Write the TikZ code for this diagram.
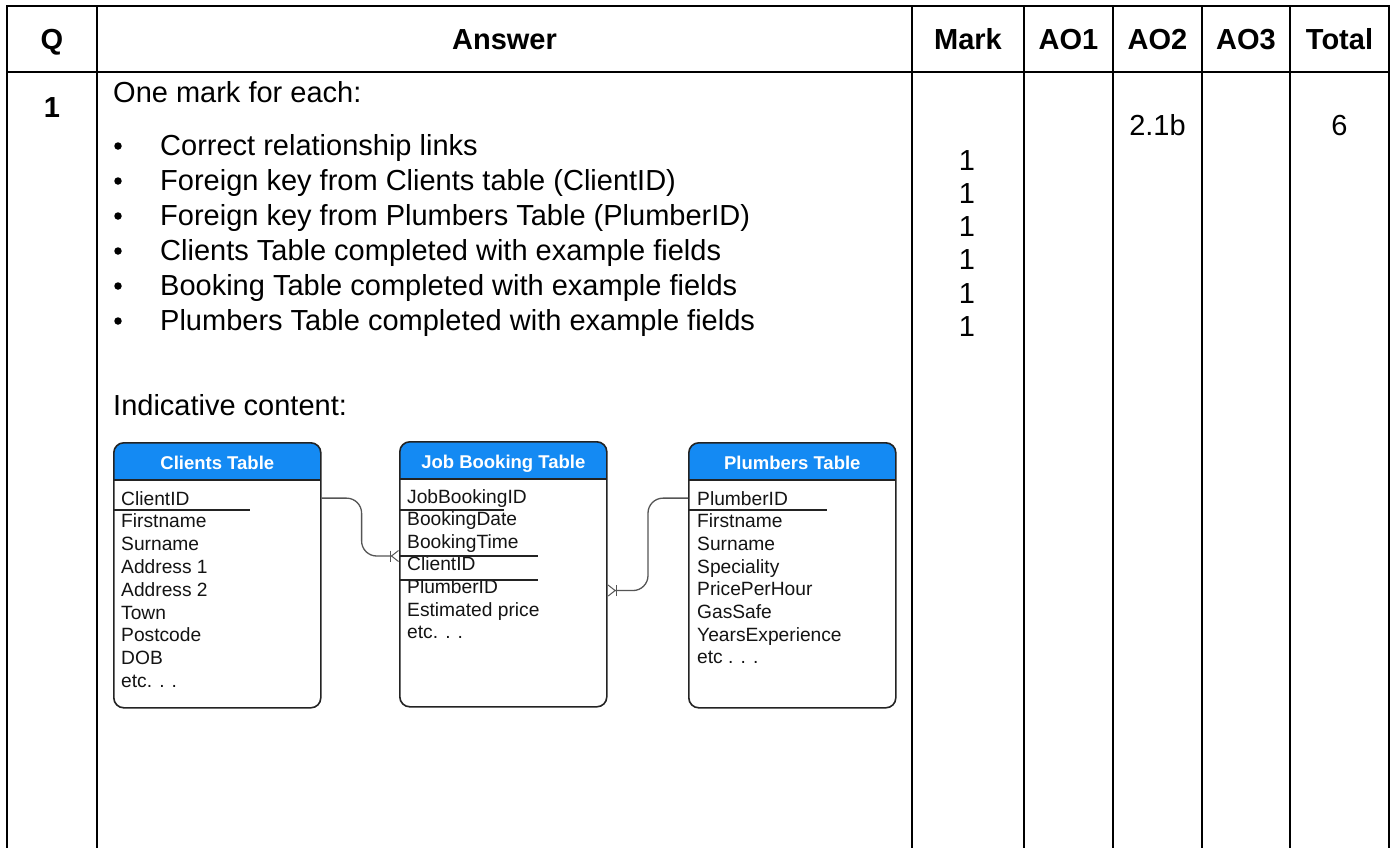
\documentclass[tikz,border=0pt]{standalone}
\usepackage{fontspec}
\setmainfont{Liberation Sans}
\usetikzlibrary{positioning, calc, arrows.meta}
\definecolor{tablehead}{RGB}{20, 138, 243}
\definecolor{boxline}{RGB}{35, 35, 35}
\definecolor{linkgrey}{RGB}{85, 85, 85}
\newcommand{\bodyfont}{\fontsize{29}{35}\selectfont}
\newcommand{\erfont}{\fontsize{19.2}{23}\selectfont}
\newcommand{\ertitlefont}{\fontsize{18.5}{22}\selectfont}

\tikzset{
  grid/.style={line width=2.2pt, black, line cap=rect},
  colhead/.style={font=\bodyfont\bfseries, inner sep=0pt, anchor=base},
  bodytext/.style={font=\bodyfont, anchor=base west, inner sep=0pt},
  markcell/.style={font=\bodyfont, anchor=base, inner sep=0pt},
  bullet/.style={circle, fill=black, inner sep=0pt, minimum size=7.5pt},
  entity/.style={draw=boxline, line width=1.6pt, rounded corners=10pt, fill=white,
    minimum width=207pt, minimum height=265pt, anchor=north west, inner sep=0pt,
    path picture={
      \fill[tablehead, sharp corners] (path picture bounding box.north west) rectangle ([yshift=-37pt]path picture bounding box.north east);
      \draw[boxline, line width=1.6pt] ([yshift=-37pt]path picture bounding box.north west) -- ([yshift=-37pt]path picture bounding box.north east);}},
  entitle/.style={font=\ertitlefont\bfseries, text=white, inner sep=0pt, anchor=base},
  field/.style={font=\erfont, text=black!92, anchor=base west, inner sep=0pt},
  keyline/.style={boxline, line width=1.1pt},
  link/.style={linkgrey, line width=1.3pt, rounded corners=15pt},
  crowfoot/.style={-{Bar[width=11pt, line width=1pt] Straight Barb[reversed, length=7pt, width=11pt, line width=1pt]}}
}

\begin{document}
\begin{tikzpicture}[x=1pt, y=-1pt]
    \fill[white] (0,0) rectangle (1395,847);
    \useasboundingbox (0,0) rectangle (1395,847);

    % Mark scheme grid
    \foreach \gx in {7,97,912,1024,1113,1202,1290,1389}
        \draw[grid] (\gx,6) -- (\gx,850);
    \draw[grid] (7,6) -- (1389,6);
    \draw[grid] (7,72) -- (1389,72);

    % Column headings
    \node[colhead] (hq) at (52,49) {Q};
    \node[colhead] (hanswer) at (504.5,49) {Answer};
    \node[colhead] (hmark) at (968,49) {Mark};
    \node[colhead] (hao1) at (1068.5,49) {AO1};
    \node[colhead] (hao2) at (1157.5,49) {AO2};
    \node[colhead] (hao3) at (1246,49) {AO3};
    \node[colhead] (htotal) at (1339.5,49) {Total};

    % Question row
    \node[colhead] (qnum) at (52,117) {1};
    \node[bodytext] (intro) at (113,102) {One mark for each:};
    \foreach \txt [count=\i] in {Correct relationship links,
        Foreign key from Clients table (ClientID),
        Foreign key from Plumbers Table (PlumberID),
        Clients Table completed with example fields,
        Booking Table completed with example fields,
        Plumbers Table completed with example fields}{
        \node[bullet] (dot\i) at (118,{111+35*\i}) {};
        \node[bodytext] (point\i) at (160,{120+35*\i}) {\txt};
    }
    \node[bodytext] (indic) at (113,415) {Indicative content:};

    \foreach \i in {0,...,5}
        \node[markcell] (mark\i) at (967,{170+33.3*\i}) {1};
    \node[markcell] (ao2val) at (1157.5,135) {2.1b};
    \node[markcell] (totalval) at (1339.5,135) {6};

    % Entity boxes
    \node[entity] (clients) at (113,442) {};
    \node[entity] (jobs) at (399,441) {};
    \node[entity] (plumbers) at (688,442) {};
    \node[entitle] (clientstitle) at ([yshift=-27pt]clients.north) {Clients Table};
    \node[entitle] (jobstitle) at ([yshift=-27pt]jobs.north) {Job Booking Table};
    \node[entitle] (plumberstitle) at ([yshift=-27pt]plumbers.north) {Plumbers Table};

    % Fields
    \foreach \f [count=\i from 0] in {ClientID, Firstname, Surname, Address 1, Address 2,
        Town, Postcode, DOB, etc. . .}
        \node[field] (cl\i) at (121,{505+22.8*\i}) {\f};
    \foreach \f [count=\i from 0] in {JobBookingID, BookingDate, BookingTime, ClientID,
        PlumberID, Estimated price, etc. . .}
        \node[field] (jb\i) at (407,{503+22.6*\i}) {\f};
    \foreach \f [count=\i from 0] in {PlumberID, Firstname, Surname, Speciality,
        PricePerHour, GasSafe, YearsExperience, etc . . .}
        \node[field] (pl\i) at (697,{505+22.7*\i}) {\f};

    % Key separators
    \draw[keyline] ($(clients.north west)+(0,68)$) -- ++(137,0);
    \draw[keyline] ($(jobs.north west)+(0,69)$) -- ++(105,0);
    \coordinate (jbfk) at ($(jobs.north west)+(0,115)$);
    \draw[keyline] (jbfk) -- ++(139,0);
    \draw[keyline] ($(jobs.north west)+(0,139)$) -- ++(139,0);
    \draw[keyline] ($(plumbers.north west)+(0,68)$) -- ++(139,0);

    % Relationship links
    \draw[link, crowfoot] (clients.east |- cl0) -- ++(40,0) |- (jbfk);
    \draw[link, crowfoot] (plumbers.west |- pl0) -- ++(-40,0) |- ([yshift=-4pt]jobs.east |- jb4);
\end{tikzpicture}
\end{document}
